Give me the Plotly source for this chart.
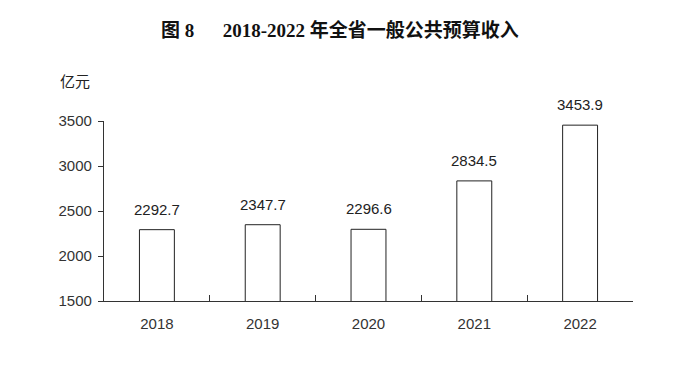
import plotly.graph_objects as go

years = ["2018", "2019", "2020", "2021", "2022"]
revenue = [2292.7, 2347.7, 2296.6, 2834.5, 3453.9]
y_ticks = [1500, 2000, 2500, 3000, 3500]

fig = go.Figure()
fig.add_trace(go.Bar(
    x=years, y=revenue, width=0.33,
    marker=dict(color="white", line=dict(color="#222222", width=1)),
    hoverinfo="skip",
))
for i, v in enumerate(revenue):
    fig.add_annotation(x=i, y=v, text=f"{v:.1f}", showarrow=False,
                       yanchor="bottom", yshift=10,
                       font=dict(family="Liberation Sans, Arial", size=15, color="#222222"))

fig.add_annotation(xref="paper", yref="paper", x=-0.055, y=1.225, text="亿元",
                   showarrow=False, xanchor="center", yanchor="middle",
                   font=dict(family="Noto Sans CJK SC", size=15, color="#222222"))

fig.update_layout(
    width=680, height=371,
    margin=dict(l=96, r=55, t=113, b=78),
    paper_bgcolor="white", plot_bgcolor="white",
    showlegend=False,
    title=dict(text="图 8&nbsp;&nbsp;&nbsp;&nbsp;&nbsp;&nbsp;2018-2022 年全省一般公共预算收入", x=0.488, xanchor="center",
               y=0.941, yanchor="middle",
               font=dict(family="Liberation Serif, Noto Sans CJK SC", size=19, color="#111111", weight="bold")),
    xaxis=dict(type="category", showline=True, linecolor="#333333", linewidth=1.2,
               ticks="inside", tickson="boundaries", ticklen=6, tickcolor="#333333",
               ticklabelstandoff=9,
               tickfont=dict(family="Liberation Sans, Arial", size=15, color="#333333"),
               showgrid=False, range=[-0.5, 4.5]),
    yaxis=dict(range=[1500, 3500], tickvals=y_ticks, showline=True, linecolor="#333333",
               linewidth=1.2, ticks="outside", ticklen=5, tickcolor="#333333",
               ticklabelstandoff=3,
               tickfont=dict(family="Liberation Sans, Arial", size=15, color="#333333"),
               showgrid=False, zeroline=False),
)

fig.write_html("out.html")
